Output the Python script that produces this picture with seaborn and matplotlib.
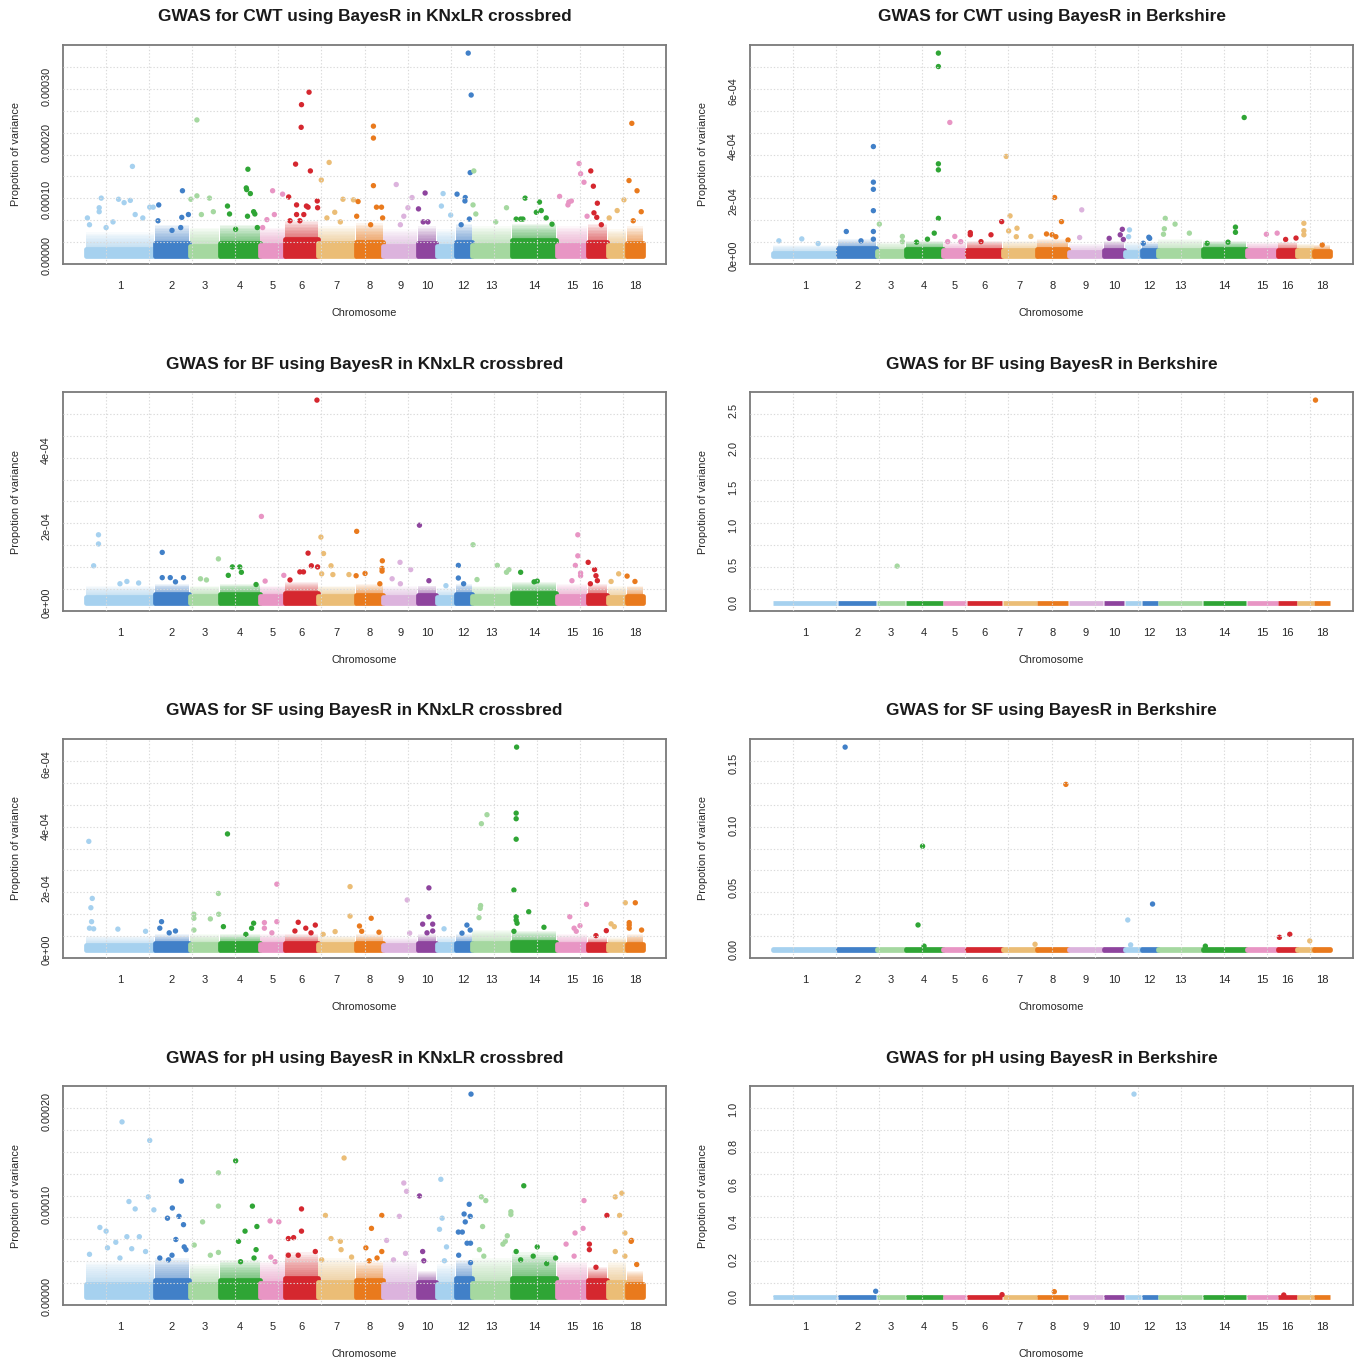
import numpy as np
import pandas as pd
import matplotlib
matplotlib.use("Agg")
import matplotlib.pyplot as plt
import seaborn as sns

sns.set_theme(style="white")
plt.rcParams['font.family'] = ['Liberation Sans', 'DejaVu Sans']

# ---------------- data ----------------
chrom_sizes_knxlr = [69.5, 35, 30, 41, 25, 33, 37.5, 28, 34.5, 19, 19, 16.5, 40, 45, 31, 20, 19, 17.5]
chrom_sizes_berk = [66, 39, 29, 38, 24, 36, 35, 31.5, 35.5, 21, 17, 17, 45, 44, 32, 19, 17, 17]
chrom_labels = ['1', '2', '3', '4', '5', '6', '7', '8', '9', '10', '', '12', '13', '14', '15', '16', '', '18']
chrom_colors = ['#a6d1ef', '#4180c8', '#a5d8a0', '#2fa535', '#e895c4',
                '#d5272f', '#ebbd76', '#e97a1d', '#dcb3dd', '#8e449e']

# CWT, KNxLR crossbred (values in 1e-4)
cwt_kn_pos = [[.68, .23, .48, .65, .56, .20, .20, .03, .06, .72, .83, .93, .98, .40, .30],
              [.80, .12, .97, .78, .10, .75, .50],
              [.25, .25, .05, .67, .80, .40],
              [.70, .66, .67, .76, .20, .25, .84, .87, .69, .93, .40],
              [.50, .90, .57, .27, .10],
              [.73, .50, .49, .32, .77, .11, .35, .65, .70, .98, .99, .35, .57, .15, .45],
              [.30, .09, .67, .45, .24, .95, .60],
              [.65, .65, .65, .10, .76, .94, .98, .05, .55],
              [.38, .84, .72, .60, .50],
              [.40, .05, .55, .30],
              [.35, .26, .75],
              [.78, .96, .90, .10, .60, .58, .85, .35],
              [.05, .03, .10, .87, .60],
              [.30, .62, .55, .66, .77, .10, .20, .25, .90],
              [.73, .78, .89, .10, .40, .48, .37, .99],
              [.17, .30, .50, .33, .47, .70],
              [.52, .88, .10],
              [.32, .16, .62, .86, .40]]
cwt_kn_val = [[1.58, 1.02, 1.00, .98, .94, .85, .78, .67, .55, .73, .67, .86, .86, .60, .50],
              [1.15, .90, .73, .68, .62, .50, .45],
              [2.40, 1.06, 1.00, 1.02, .78, .73],
              [1.53, 1.20, 1.17, 1.10, .88, .74, .78, .74, .70, .50, .47],
              [1.15, 1.09, .73, .64, .50],
              [2.89, 2.67, 2.27, 1.62, 1.50, 1.04, .90, .88, .86, .97, .85, .73, .73, .62, .62],
              [1.65, 1.34, 1.00, .77, .67, .99, .60],
              [2.29, 2.08, 1.24, .96, .86, .86, .67, .70, .55],
              [1.26, 1.03, .85, .70, .55],
              [1.11, .83, .60, .60],
              [1.10, .88, .72],
              [3.58, 2.84, 1.47, 1.09, 1.03, .97, .65, .55],
              [1.50, .90, .74, .85, .60],
              [1.02, .95, .77, .80, .67, .65, .65, .65, .56],
              [1.63, 1.45, 1.30, 1.05, .95, .97, .90, .70],
              [1.50, 1.23, .93, .76, .68, .55],
              [.80, .99, .67],
              [2.34, 1.33, 1.15, .78, .62]]
cwt_kn_band = [.12, .22, .18, .22, .20, .30, .22, .25, .18, .22, .18, .25, .20, .28, .20, .25, .20, .22]
cwt_kn_fringe = [.42, .55, .50, .55, .50, .62, .52, .58, .47, .52, .47, .57, .52, .57, .52, .57, .47, .52]

# CWT, Berkshire (values in 1e-4)
cwt_bk_pos = [[.45, .10, .70],
              [.92, .92, .92, .92, .92, .22, .92, .60],
              [.10, .90, .90],
              [.88, .88, .88, .88, .88, .77, .59, .30],
              [.29, .50, .20, .75],
              [.10, .10, .98, .68, .40],
              [.11, .22, .42, .18, .40, .82],
              [.56, .78, .30, .48, .60, .99],
              [.38, .32],
              [.90, .80, .27, .95],
              [.30, .25],
              [.45, .50, .12],
              [.16, .38, .14, .12, .70],
              [.95, .75, .75, .10, .58],
              [.63, .97],
              [.40, .95],
              [.41, .41, .41],
              [.50]]
cwt_bk_val = [[.62, .55, .45],
              [3.99, 2.69, 2.43, 1.65, .89, .89, .61, .55],
              [1.16, .71, .52],
              [7.40, 6.91, 3.36, 3.14, 1.37, .83, .61, .50],
              [4.87, .71, .52, .52],
              [.85, .77, 1.25, .77, .52],
              [3.63, 1.46, 1.01, .91, .70, .71],
              [2.13, 1.25, .80, .77, .70, .58],
              [1.68, .67],
              [.97, .77, .64, .60],
              [.95, .70],
              [.68, .64, .46],
              [1.37, 1.16, .99, .79, .83],
              [5.05, 1.05, .86, .46, .50],
              [.79, .83],
              [.60, .65],
              [1.19, .92, .77],
              [.40]]
cwt_bk_band = [.12, .28, .18, .25, .20, .22, .20, .25, .15, .22, .15, .20, .20, .25, .20, .22, .20, .18]
cwt_bk_fringe = [.40, .60, .50, .55, .50, .55, .55, .60, .45, .55, .50, .50, .60, .55, .50, .50, .45, .40]

# BF, KNxLR crossbred (values in 1e-4)
bf_kn_pos = [[.19, .19, .12, .60, .77, .50],
             [.22, .22, .45, .83, .60],
             [.97, .37, .57],
             [.32, .50, .22, .54, .90],
             [.05, .95, .20],
             [.97, .70, .80, .99, .45, .56, .15],
             [.08, .15, .35, .10, .83, .40],
             [.05, .97, .96, .96, .35, .03, .88],
             [.49, .80, .26, .50],
             [.10, .60],
             [.50],
             [.18, .18, .50],
             [.03, .13, .64, .87, .93],
             [.20, .57, .50],
             [.69, .69, .61, .78, .78, .50],
             [.04, .36, .43, .15, .50],
             [.60, .20],
             [.05, .50]]
bf_kn_val = [[1.78, 1.54, .97, .56, .52, .50],
             [1.32, .66, .66, .66, .55],
             [1.15, .63, .60],
             [.94, .94, .72, .80, .48],
             [2.26, .72, .57],
             [5.30, 1.30, .97, .94, .81, .81, .60],
             [1.72, 1.29, .97, .76, .74, .74],
             [1.87, 1.10, .90, .83, .77, .71, .50],
             [1.06, .87, .63, .50],
             [2.03, .58],
             [.45],
             [.98, .65, .50],
             [1.52, .61, .98, .80, .87],
             [.80, .57, .55],
             [1.78, 1.23, .98, .78, .71, .58],
             [1.06, .87, .71, .50, .58],
             [.76, .56],
             [.70, .56]]
bf_kn_band = [.15, .22, .18, .22, .18, .25, .18, .20, .15, .20, .15, .22, .18, .25, .18, .20, .15, .18]
bf_kn_fringe = [.45, .50, .45, .50, .45, .55, .45, .50, .45, .45, .40, .50, .45, .55, .50, .50, .45, .45]

# BF, Berkshire (proportion of variance)
bf_bk_pos = [[], [], [.72], [], [], [], [], [], [], [], [], [], [], [], [], [], [], [.10]]
bf_bk_val = [[], [], [.477], [], [], [], [], [], [], [], [], [], [], [], [], [], [], [2.63]]
bf_bk_band = [0.0] * 18
bf_bk_fringe = [0.0] * 18

# SF, KNxLR crossbred (values in 1e-4)
sf_kn_pos = [[.05, .10, .08, .09, .06, .12, .47, .87],
             [.20, .15, .60, .42],
             [.15, .15, .15, .97, .98, .70],
             [.20, .10, .84, .79, .65],
             [.67, .67, .17, .17, .47],
             [.40, .92, .63, .30, .79],
             [.86, .86, .46, .14],
             [.57, .15, .23, .85],
             [.70, .77],
             [.60, .60, .27, .80, .80, .50],
             [.40],
             [.70, .90, .40],
             [.24, .38, .22, .21, .18],
             [.11, .10, .10, .10, .05, .38, .10, .10, .12, .05, .72],
             [.97, .43, .76, .57, .64],
             [.43, .95],
             [.95, .20, .37],
             [.52, .17, .17, .17, .88]]
sf_kn_val = [[3.50, 1.66, 1.36, .91, .70, .68, .67, .60],
             [.91, .70, .61, .55],
             [1.15, 1.02, .64, 1.82, 1.15, 1.00],
             [3.74, .75, .86, .70, .50],
             [2.12, .91, .88, .70, .55],
             [.89, .80, .70, .61, .55],
             [2.04, 1.09, .59, .50],
             [1.02, .77, .60, .57],
             [1.61, .54],
             [2.00, 1.07, .83, .83, .61, .55],
             [.68],
             [.80, .64, .54],
             [4.07, 4.36, 1.43, 1.34, 1.04],
             [6.54, 4.41, 4.23, 3.57, 1.93, 1.23, 1.07, .96, .86, .60, .73],
             [1.47, 1.07, .78, .70, .60],
             [.46, .62],
             [1.52, .84, .75],
             [1.52, .88, .80, .70, .64]]
sf_kn_band = [.15, .22, .20, .22, .20, .22, .18, .22, .15, .22, .18, .22, .22, .25, .20, .18, .18, .20]
sf_kn_fringe = [.45, .50, .50, .50, .50, .50, .45, .50, .40, .50, .45, .50, .65, .60, .50, .40, .40, .50]

# SF, Berkshire (proportion of variance)
sf_bk_pos = [[], [.19], [], [.46, .34, .50], [], [], [.94], [.92], [], [], [.20, .37], [.67], [],
             [.06], [], [.07, .62], [.76], []]
sf_bk_val = [[], [.1627], [], [.0832, .0200, .0030], [], [], [.0045], [.1328], [], [], [.0240, .0040],
             [.0368], [], [.0030], [], [.0101, .0125], [.0072], []]
sf_bk_band = [0.0005] * 18
sf_bk_fringe = [0.0012] * 18

# pH, KNxLR crossbred (values in 1e-5)
ph_kn_pos = [[.53, .93, .63, .91, .99, .72, .21, .30, .60, .78, .32, .44, .06, .67, .87, .50],
             [.77, .51, .37, .70, .83, .61, .85, .90, .15, .50, .40],
             [.97, .97, .44, .16, .97, .70],
             [.40, .81, .63, .92, .47, .90, .52, .85],
             [.40, .75, .43, .60],
             [.50, .50, .10, .26, .92, .10, .40],
             [.70, .20, .35, .60, .62, .90, .10],
             [.95, .58, .38, .78, .95, .50],
             [.60, .68, .47, .10, .65, .30],
             [.10, .27, .33],
             [.23, .30, .16, .53, .42],
             [.95, .84, .53, .90, .60, .18, .42, .92, .71, .20, .92],
             [.24, .35, .27, .98, .98, .89, .84, .78, .19, .30],
             [.27, .57, .10, .98, .48, .78, .20],
             [.89, .86, .60, .31, .57],
             [.10, .10, .43, .98],
             [.42, .77, .65, .93, .42, .93],
             [.30, .28, .60]]
ph_kn_val = [[18.9, 16.9, 10.3, 10.8, 9.4, 9.5, 7.5, 7.1, 6.5, 6.5, 5.3, 5.9, 4.6, 5.2, 4.9, 4.2],
             [12.5, 9.6, 8.5, 8.7, 7.8, 6.2, 5.4, 5.1, 4.2, 4.5, 4.0],
             [13.4, 9.8, 8.1, 5.6, 4.8, 4.5],
             [14.7, 9.8, 7.1, 7.6, 6.0, 5.1, 3.8, 4.2],
             [8.2, 8.1, 4.3, 3.8],
             [9.5, 7.1, 6.3, 6.4, 4.9, 4.5, 4.5],
             [15.0, 8.8, 6.3, 6.0, 5.1, 4.3, 4.0],
             [8.8, 7.4, 5.3, 4.2, 4.9, 3.9],
             [12.3, 11.4, 8.7, 6.1, 4.7, 4.0],
             [10.9, 4.9, 3.9],
             [12.7, 8.5, 7.3, 5.4, 3.9],
             [21.9, 10.0, 8.95, 8.7, 8.1, 7.0, 7.0, 5.8, 5.8, 4.5, 3.7],
             [10.8, 10.4, 7.6, 9.2, 8.9, 6.6, 6.0, 5.7, 5.1, 4.4],
             [12.0, 5.4, 4.9, 4.2, 4.4, 3.6, 4.0],
             [10.4, 7.4, 6.9, 5.7, 4.4],
             [5.7, 5.1, 3.2, 8.8],
             [10.8, 11.2, 8.8, 6.9, 4.9, 4.4],
             [6.1, 6.0, 3.5]]
ph_kn_band = [1.4, 1.8, 1.4, 1.8, 1.5, 2.0, 1.6, 1.8, 1.4, 1.6, 1.4, 2.0, 1.5, 2.0, 1.6, 1.8, 1.6, 1.4]
ph_kn_fringe = [3.8, 4.2, 3.5, 4.0, 3.8, 4.8, 4.2, 3.8, 4.0, 2.8, 3.5, 4.0, 4.2, 4.8, 3.8, 3.2, 3.8, 2.8]

# pH, Berkshire (proportion of variance)
ph_bk_pos = [[], [.98], [], [], [], [.99], [], [.55], [], [], [.57], [], [], [], [], [.30], [], []]
ph_bk_val = [[], [.030], [], [], [], [.012], [], [.028], [], [], [1.08], [], [], [], [], [.010], [], []]
ph_bk_band = [0.002] * 18
ph_bk_fringe = [0.004] * 18

# axis ticks
cwt_kn_yticks = [0, 5e-5, 1e-4, 1.5e-4, 2e-4, 2.5e-4, 3e-4, 3.5e-4]
cwt_kn_ylabels = ['0.00000', '', '0.00010', '', '0.00020', '', '0.00030', '']
cwt_bk_yticks = [0, 1e-4, 2e-4, 3e-4, 4e-4, 5e-4, 6e-4, 7e-4]
cwt_bk_ylabels = ['0e+00', '', '2e-04', '', '4e-04', '', '6e-04', '']
bf_kn_yticks = [0, 1e-4, 2e-4, 3e-4, 4e-4, 5e-4]
bf_kn_ylabels = ['0e+00', '', '2e-04', '', '4e-04', '']
bf_bk_yticks = [0, 0.5, 1.0, 1.5, 2.0, 2.5]
bf_bk_ylabels = ['0.0', '0.5', '1.0', '1.5', '2.0', '2.5']
sf_kn_yticks = [0, 1e-4, 2e-4, 3e-4, 4e-4, 5e-4, 6e-4]
sf_kn_ylabels = ['0e+00', '', '2e-04', '', '4e-04', '', '6e-04']
sf_bk_yticks = [0, 0.05, 0.10, 0.15]
sf_bk_ylabels = ['0.00', '0.05', '0.10', '0.15']
ph_kn_yticks = [0, 5e-5, 1e-4, 1.5e-4, 2e-4]
ph_kn_ylabels = ['0.00000', '', '0.00010', '', '0.00020']
ph_bk_yticks = [0, 0.2, 0.4, 0.6, 0.8, 1.0]
ph_bk_ylabels = ['0.0', '0.2', '0.4', '0.6', '0.8', '1.0']

titles = ["GWAS for CWT using BayesR in KNxLR crossbred", "GWAS for CWT using BayesR in Berkshire",
          "GWAS for BF using BayesR in KNxLR crossbred", "GWAS for BF using BayesR in Berkshire",
          "GWAS for SF using BayesR in KNxLR crossbred", "GWAS for SF using BayesR in Berkshire",
          "GWAS for pH using BayesR in KNxLR crossbred", "GWAS for pH using BayesR in Berkshire"]

# ---------------- drawing ----------------
W, H = 1357, 1359
fig = plt.figure(figsize=(W / 100, H / 100), dpi=100)
fig.patch.set_facecolor('white')

BOX_W, BOX_H = 603, 219
col_x = [63, 750]
row_top = [45, 392, 739, 1086]

TXT = '#262626'
GRAY = '#7a7a7a'
N_LAYERS = 12


def panel(ax, sizes, pos, val, band, fringe, scale, yticks, ylabels, title):
    sizes = np.asarray(sizes, dtype=float)
    starts = np.concatenate([[0], np.cumsum(sizes)[:-1]])
    total = sizes.sum()
    colors = {c + 1: chrom_colors[c % 10] for c in range(18)}

    rows = []
    for c in range(18):
        for p, v in zip(pos[c], val[c]):
            rows.append((c + 1, starts[c] + p * sizes[c], v * scale))
    df = pd.DataFrame(rows, columns=['chrom', 'x', 'y'])

    for c in range(18):
        col = colors[c + 1]
        xs = [starts[c] + 0.3, starts[c] + sizes[c] - 0.3]
        b, f = band[c] * scale, fringe[c] * scale
        # fading zone of scattered points above the dense band
        for k in range(1, N_LAYERS + 1):
            top = b + (f - b) * k / N_LAYERS
            ax.fill_between(xs, 0, top, color=col, alpha=0.075, lw=0,
                            antialiased=False, zorder=2)
        ax.fill_between(xs, 0, b, facecolor=col, edgecolor=col,
                        lw=3.4, joinstyle='round', zorder=2.5)

    sns.scatterplot(data=df, x='x', y='y', hue='chrom', palette=colors, s=15,
                    linewidth=0, legend=False, ax=ax, zorder=3)

    ymax = max(df['y'].max(), max(fringe) * scale)
    ax.set_xlim(-0.04 * total, 1.04 * total)
    ax.set_ylim(-0.04 * ymax, 1.04 * ymax)

    # grid (14 x 10 cells) drawn on top
    for k in range(1, 14):
        ax.plot([k / 14, k / 14], [0, 1], transform=ax.transAxes, color='#dadada',
                lw=0.8, ls=(0, (1.2, 1.8)), zorder=4)
    for k in range(1, 10):
        ax.plot([0, 1], [k / 10, k / 10], transform=ax.transAxes, color='#dadada',
                lw=0.8, ls=(0, (1.2, 1.8)), zorder=4)

    ax.set_xticks(starts + sizes / 2)
    ax.set_xticklabels(chrom_labels)
    ax.set_yticks(yticks)
    ax.set_yticklabels(ylabels, rotation=90, va='center')
    ax.tick_params(axis='x', length=5, width=0.9, color=GRAY, pad=7, labelsize=8, labelcolor=TXT)
    ax.tick_params(axis='y', length=4.5, width=0.9, color=GRAY, pad=4, labelsize=7.8, labelcolor=TXT)
    ax.set_xlabel('')
    ax.set_ylabel('')
    for sp in ax.spines.values():
        sp.set_color(GRAY)
        sp.set_linewidth(1.3)
    ax.text(0.5, 1 + 28 / BOX_H, title, transform=ax.transAxes, ha='center', va='center',
            fontsize=12.4, fontweight='bold', color='#1a1a1a')
    ax.text(0.5, -49 / BOX_H, 'Chromosome', transform=ax.transAxes, ha='center', va='center',
            fontsize=7.8, color=TXT)
    ax.text(-47 / BOX_W, 0.5, 'Propotion of variance', transform=ax.transAxes, ha='center',
            va='center', rotation=90, fontsize=7.8, color=TXT)


specs = [
    (chrom_sizes_knxlr, cwt_kn_pos, cwt_kn_val, cwt_kn_band, cwt_kn_fringe, 1e-4, cwt_kn_yticks, cwt_kn_ylabels),
    (chrom_sizes_berk, cwt_bk_pos, cwt_bk_val, cwt_bk_band, cwt_bk_fringe, 1e-4, cwt_bk_yticks, cwt_bk_ylabels),
    (chrom_sizes_knxlr, bf_kn_pos, bf_kn_val, bf_kn_band, bf_kn_fringe, 1e-4, bf_kn_yticks, bf_kn_ylabels),
    (chrom_sizes_berk, bf_bk_pos, bf_bk_val, bf_bk_band, bf_bk_fringe, 1.0, bf_bk_yticks, bf_bk_ylabels),
    (chrom_sizes_knxlr, sf_kn_pos, sf_kn_val, sf_kn_band, sf_kn_fringe, 1e-4, sf_kn_yticks, sf_kn_ylabels),
    (chrom_sizes_berk, sf_bk_pos, sf_bk_val, sf_bk_band, sf_bk_fringe, 1.0, sf_bk_yticks, sf_bk_ylabels),
    (chrom_sizes_knxlr, ph_kn_pos, ph_kn_val, ph_kn_band, ph_kn_fringe, 1e-5, ph_kn_yticks, ph_kn_ylabels),
    (chrom_sizes_berk, ph_bk_pos, ph_bk_val, ph_bk_band, ph_bk_fringe, 1.0, ph_bk_yticks, ph_bk_ylabels),
]

for i, sp in enumerate(specs):
    r, c = divmod(i, 2)
    x0 = col_x[c]
    y0 = row_top[r]
    ax = fig.add_axes([x0 / W, 1 - (y0 + BOX_H) / H, BOX_W / W, BOX_H / H])
    ax.set_facecolor('white')
    panel(ax, *sp, titles[i])

fig.savefig('out.png', dpi=100, facecolor='white')
